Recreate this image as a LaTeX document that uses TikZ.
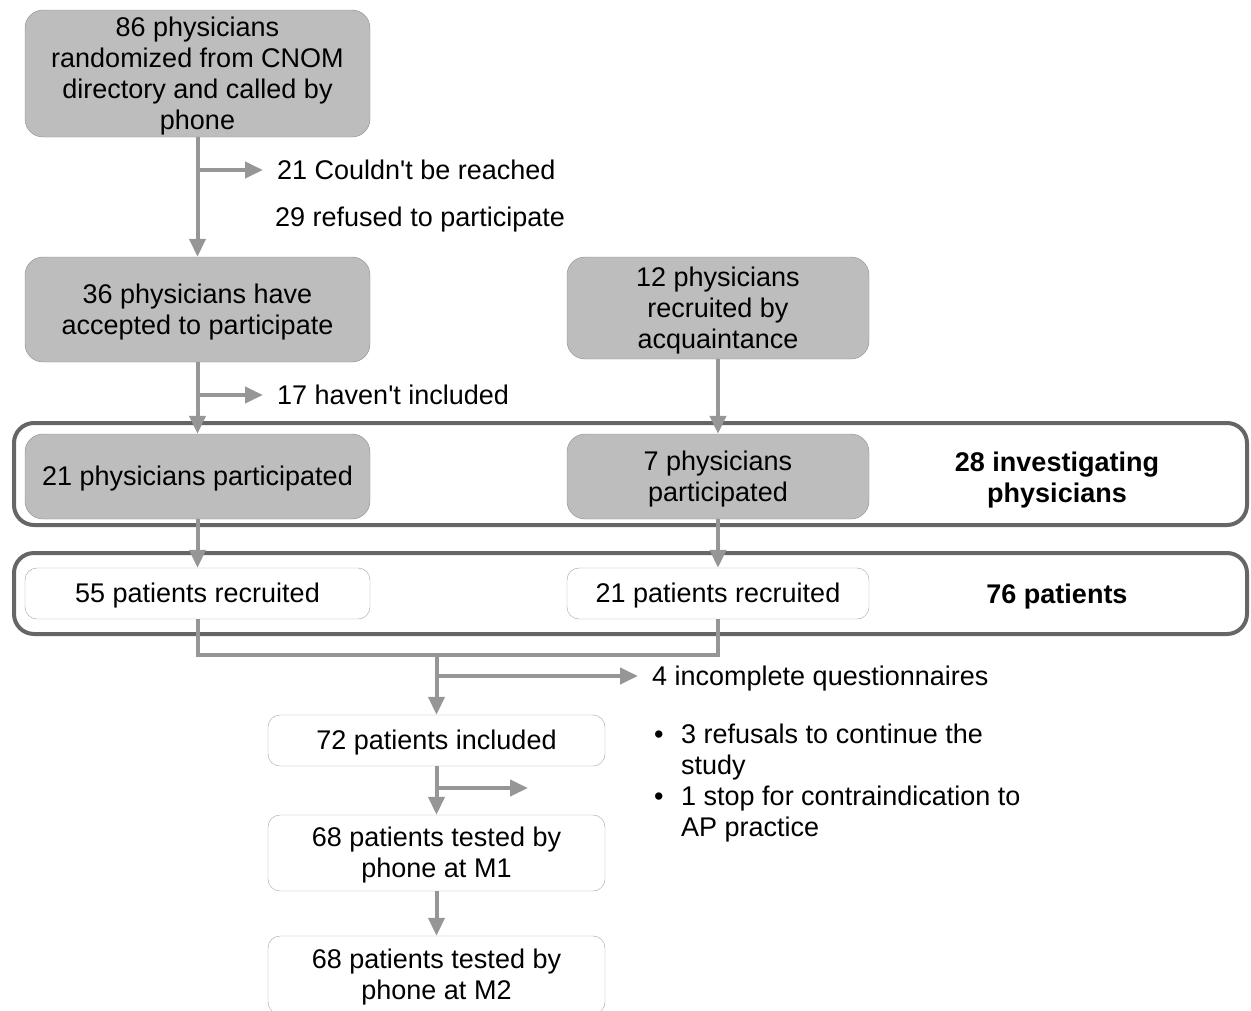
\documentclass[tikz,border=0pt]{standalone}
\usepackage{fontspec}
\setmainfont{Liberation Sans}
\usetikzlibrary{positioning,arrows.meta}
\definecolor{boxfill}{RGB}{189,189,189}
\definecolor{boxline}{RGB}{140,140,140}
\definecolor{flowcol}{RGB}{150,150,150}
\definecolor{framecol}{RGB}{102,102,102}
\newcommand\ls{\rule[-0.212em]{0pt}{1.117em}}

\begin{document}
\begin{tikzpicture}[x=1pt,y=-1pt,
  every node/.style={font=\fontsize{27}{31}\selectfont},
  graybox/.style={draw=boxline,fill=boxfill,rounded corners=18pt,align=center,inner sep=0pt},
  whitebox/.style={draw=boxline!80,fill=white,rounded corners=12pt,align=center,inner sep=0pt},
  frame/.style={draw=framecol,line width=4pt,rounded corners=20pt,inner sep=0pt},
  flow/.style={draw=flowcol,line width=4pt},
  tip/.style={-{Triangle[length=18pt,width=16pt]}},
  note/.style={anchor=west,inner sep=0pt}]
\useasboundingbox (0,0) rectangle (1251,1010);
\clip (0,0) rectangle (1251,1010);
% frames
\node[frame,minimum width=1233pt,minimum height=102pt] (physframe) at (630.5,474) {};
\node[frame,minimum width=1233pt,minimum height=81pt] (patframe) at (630.5,593.5) {};
\node[align=center] (physsum) at (1057,478) {\ls\bfseries 28 investigating\\\bfseries physicians\ls};
\node (patsum) at (1057,594) {\ls\bfseries 76 patients};
% physicians
\node[graybox,minimum width=345pt,minimum height=127pt] (random) at (197.5,73.5)
  {\ls 86 physicians\\randomized from CNOM\\directory and called by\\phone\ls};
\node[graybox,minimum width=345pt,minimum height=105pt] (accept) at (197.5,309.5)
  {\ls 36 physicians have\\accepted to participate\ls};
\node[graybox,minimum width=302pt,minimum height=102pt] (acquaint) at (718,308)
  {\ls 12 physicians\\recruited by\\acquaintance\ls};
\node[graybox,minimum width=345pt,minimum height=85pt] (partA) at (197.5,476.5)
  {\ls 21 physicians participated};
\node[graybox,minimum width=302pt,minimum height=85pt] (partB) at (718,476.5)
  {\ls 7 physicians\\participated\ls};
% patients
\node[whitebox,minimum width=345pt,minimum height=51pt] (recA) at (197.5,593.5)
  {\ls 55 patients recruited};
\node[whitebox,minimum width=302pt,minimum height=51pt] (recB) at (718,593.5)
  {\ls 21 patients recruited};
\node[whitebox,minimum width=337pt,minimum height=51pt] (incl) at (436.5,740.5)
  {\ls 72 patients included};
\node[whitebox,minimum width=337pt,minimum height=76pt] (testM1) at (436.5,853)
  {\ls 68 patients tested by\\phone at M1\ls};
\node[whitebox,minimum width=337pt,minimum height=78pt] (testM2) at (436.5,975)
  {\ls 68 patients tested by\\phone at M2\ls};
% side notes
\node[note] (lost21) at (277,170) {\ls 21 Couldn\textquotesingle t be reached};
\node[note] (ref29) at (275,217) {\ls 29 refused to participate};
\node[note] (lost17) at (277,395) {\ls 17 haven\textquotesingle t included};
\node[note] (lost4) at (652,676) {\ls 4 incomplete questionnaires};
\node[anchor=north west,inner sep=0pt] (reasons) at (654,722)
  {\begin{tabular}{@{}p{17pt}@{\hspace{10pt}}l@{}}
   • & 3 refusals to continue the\\
     & study\\
   • & 1 stop for contraindication to\\
     & AP practice
   \end{tabular}};
\coordinate (outH) at (528,788);
\coordinate (merge) at (436.5,655);
% connectors
\draw[flow,tip] (random) -- (accept);
\draw[flow,tip] (random.south |- lost21.west) -- ([xshift=-14pt]lost21.west);
\draw[flow,tip] (accept) -- (partA);
\draw[flow,tip] (accept.south |- lost17.west) -- ([xshift=-14pt]lost17.west);
\draw[flow,tip] (acquaint) -- (partB);
\draw[flow,tip] (partA) -- (recA);
\draw[flow,tip] (partB) -- (recB);
\draw[flow] (recA.south) |- (merge) -| (recB.south);
\draw[flow,tip] (merge) -- (incl);
\draw[flow,tip] (merge |- lost4.west) -- ([xshift=-14pt]lost4.west);
\draw[flow,tip] (incl) -- (testM1);
\draw[flow,tip] (incl.south |- outH) -- (outH);
\draw[flow,tip] (testM1) -- (testM2);
\end{tikzpicture}
\end{document}
